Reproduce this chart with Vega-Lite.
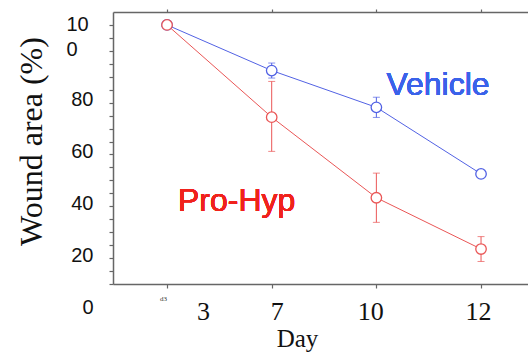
{
  "$schema": "https://vega.github.io/schema/vega-lite/v6.json",
  "autosize": "none",
  "padding": {"left": 113, "top": 12, "right": 0, "bottom": 69},
  "width": 415,
  "height": 272,
  "background": "white",
  "config": {"view": {"stroke": null}},
  "data": {"values": [
    {"group": "Vehicle", "day": "3", "area": 100, "lo": null, "hi": null},
    {"group": "Vehicle", "day": "7", "area": 82.4, "lo": 79.5, "hi": 85.3},
    {"group": "Vehicle", "day": "10", "area": 68.2, "lo": 64.3, "hi": 72.1},
    {"group": "Vehicle", "day": "12", "area": 42.5, "lo": null, "hi": null},
    {"group": "Pro-Hyp", "day": "3", "area": 100, "lo": null, "hi": null},
    {"group": "Pro-Hyp", "day": "7", "area": 64.4, "lo": 51.2, "hi": 78.2},
    {"group": "Pro-Hyp", "day": "10", "area": 33.3, "lo": 23.8, "hi": 42.8},
    {"group": "Pro-Hyp", "day": "12", "area": 13.5, "lo": 8.7, "hi": 18.3}
  ]},
  "resolve": {"axis": {"x": "independent", "y": "independent"}},
  "layer": [
    {
      "mark": {"type": "line", "strokeWidth": 1},
      "encoding": {
        "x": {
          "field": "day", "type": "ordinal", "sort": ["3", "7", "10", "12"],
          "scale": {"type": "point", "padding": 0.4825, "align": 0.535},
          "axis": {
            "orient": "bottom",
            "labelAngle": 0,
            "grid": false,
            "tickSize": 4,
            "tickColor": "#666666",
            "tickWidth": 1.2,
            "domainColor": "#666666",
            "domainWidth": 1.5,
            "labelFont": "Liberation Serif",
            "labelFontSize": 26,
            "labelColor": "#111111",
            "labelBaseline": "middle",
            "labelPadding": 23,
            "labelOffset": {"condition": [
              {"test": "datum.value == '3'", "value": 36},
              {"test": "datum.value == '7'", "value": 5},
              {"test": "datum.value == '10'", "value": -6}
            ], "value": -3},
            "title": "Day",
            "titleFont": "Liberation Serif",
            "titleFontSize": 25,
            "titleFontWeight": "normal",
            "titleColor": "#111111",
            "titleX": 184,
            "titleY": 62,
            "titleAlign": "center",
            "titleBaseline": "alphabetic"
          }
        },
        "y": {
          "field": "area", "type": "quantitative",
          "scale": {"domain": [0, 105], "nice": false, "zero": true},
          "axis": {
            "orient": "left",
            "values": [0,5,10,15,20,25,30,35,40,45,50,55,60,65,70,75,80,85,90,95,100],
            "labelExpr": "datum.value == 100 ? ['10', '0'] : (datum.value % 20 == 0 ? datum.label : '')",
            "labelOverlap": false,
            "labelBound": false,
            "labelFlush": false,
            "grid": false,
            "tickSize": 4,
            "tickColor": "#666666",
            "tickWidth": 1.2,
            "domainColor": "#666666",
            "domainWidth": 1.5,
            "labelFont": "Liberation Sans",
            "labelFontSize": 20,
            "labelColor": "#111111",
            "labelLineHeight": 25,
            "labelBaseline": "middle",
            "labelAlign": {"condition": {"test": "datum.value == 100", "value": "left"}, "value": "right"},
            "labelPadding": {"condition": {"test": "datum.value == 100", "value": 43}, "value": 16},
            "labelOffset": {"condition": {"test": "datum.value == 100", "value": 0}, "value": 23},
            "title": "Wound area (%)",
            "titleFont": "Liberation Serif",
            "titleFontSize": 32,
            "titleFontWeight": "normal",
            "titleColor": "#111111",
            "titleX": -82,
            "titleY": 129,
            "titleAlign": "center",
            "titleBaseline": "middle",
            "titleAngle": -90
          }
        },
        "color": {
          "field": "group", "type": "nominal",
          "scale": {"domain": ["Vehicle", "Pro-Hyp"], "range": ["#5262e4", "#ea5656"]},
          "legend": null
        }
      }
    },
    {
      "mark": {"type": "rule", "strokeWidth": 1},
      "encoding": {
        "x": {
          "field": "day", "type": "ordinal", "sort": ["3", "7", "10", "12"],
          "axis": {
            "orient": "bottom",
            "domain": false,
            "ticks": false,
            "grid": false,
            "labelAngle": 0,
            "labelExpr": "datum.value == '3' ? 'd3' : ''",
            "labelFont": "Liberation Serif",
            "labelFontSize": 7,
            "labelColor": "#333333",
            "labelPadding": 10,
            "labelOffset": -4,
            "title": null
          }
        },
        "y": {"field": "lo", "type": "quantitative", "axis": null},
        "y2": {"field": "hi"},
        "color": {"field": "group", "type": "nominal", "legend": null}
      }
    },
    {
      "mark": {"type": "tick", "orient": "horizontal", "size": 7, "thickness": 1},
      "encoding": {
        "x": {"field": "day", "type": "ordinal", "sort": ["3", "7", "10", "12"], "axis": null},
        "y": {"field": "lo", "type": "quantitative", "axis": null},
        "color": {"field": "group", "type": "nominal", "legend": null}
      }
    },
    {
      "mark": {"type": "tick", "orient": "horizontal", "size": 7, "thickness": 1},
      "encoding": {
        "x": {"field": "day", "type": "ordinal", "sort": ["3", "7", "10", "12"], "axis": null},
        "y": {"field": "hi", "type": "quantitative", "axis": null},
        "color": {"field": "group", "type": "nominal", "legend": null}
      }
    },
    {
      "mark": {"type": "point", "shape": "circle", "filled": false, "fill": "white", "fillOpacity": 1, "opacity": 1, "size": 110, "strokeWidth": 1.3},
      "encoding": {
        "x": {
          "field": "day", "type": "ordinal", "sort": ["3", "7", "10", "12"],
          "axis": {
            "orient": "top",
            "labels": false,
            "title": null,
            "grid": false,
            "tickSize": 3,
            "tickColor": "#666666",
            "tickWidth": 1.2,
            "domainColor": "#666666",
            "domainWidth": 1.5
          }
        },
        "y": {"field": "area", "type": "quantitative", "axis": null},
        "color": {"field": "group", "type": "nominal", "legend": null}
      }
    },
    {
      "mark": {"type": "text", "text": "Vehicle", "font": "Liberation Sans", "fontSize": 32, "color": "#3a62ea", "align": "center", "baseline": "alphabetic", "dx": -43},
      "encoding": {
        "x": {"datum": "12", "type": "ordinal", "axis": null},
        "y": {"datum": 73.0, "type": "quantitative", "axis": null}
      }
    },
    {
      "mark": {"type": "text", "text": "Pro-Hyp", "font": "Liberation Sans", "fontSize": 32, "color": "#f0221c", "align": "center", "baseline": "alphabetic", "dx": -35},
      "encoding": {
        "x": {"datum": "7", "type": "ordinal", "axis": null},
        "y": {"datum": 28.0, "type": "quantitative", "axis": null}
      }
    }
  ]
}
